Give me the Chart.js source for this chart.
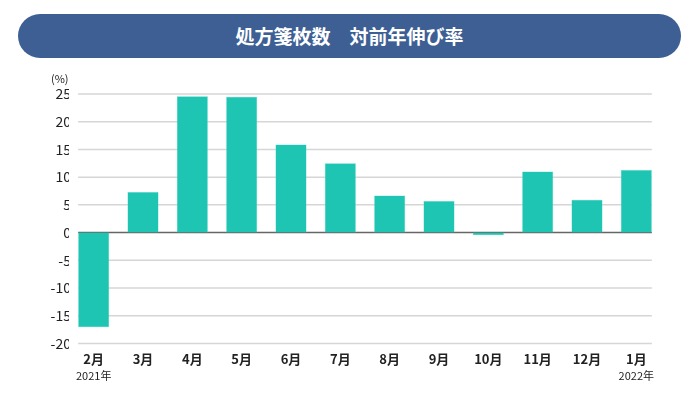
<!DOCTYPE html>
<html><head><meta charset="utf-8">
<script src="https://cdn.jsdelivr.net/npm/chart.js@4"></script>
<style>
html,body{margin:0;padding:0;background:#fff;}
#wrap{position:relative;width:700px;height:400px;}
#banner{position:absolute;left:18px;top:14px;width:663px;height:44px;border-radius:22px;background:#3d5f94;color:#fff;
 font-family:"Noto Sans CJK JP";font-weight:bold;font-size:19px;line-height:44px;text-align:center;}
#unit{position:absolute;left:51px;top:70px;font-family:"Noto Sans CJK JP";font-size:11px;color:#222;}
canvas{position:absolute;left:0;top:0;}
</style></head>
<body>
<div id="wrap">
<canvas id="c" width="700" height="400"></canvas>
<div id="banner">処方箋枚数　対前年伸び率</div>
<div id="unit">(%)</div>
</div>
<script>
const months = ['2月','3月','4月','5月','6月','7月','8月','9月','10月','11月','12月','1月'];
const years = ['2021年','','','','','','','','','','','2022年'];
const growth = [-17.1, 7.3, 24.6, 24.5, 15.9, 12.5, 6.7, 5.7, -0.5, 11.0, 5.9, 11.3];
const yTicks = [25,20,15,10,5,0,-5,-10,-15,-20];

const gridPlugin = {
  id:'insetGrid',
  beforeDatasetsDraw(chart){
    const ctx = chart.ctx, y = chart.scales.y, x = chart.scales.x;
    const meta = chart.getDatasetMeta(0);
    const half = meta.data[0].width/2;
    const left = x.getPixelForValue(0) - half;
    const right = x.getPixelForValue(months.length-1) + half;
    ctx.save();
    yTicks.forEach(v=>{
      const py = y.getPixelForValue(v);
      ctx.beginPath();
      ctx.strokeStyle = v===0 ? '#666' : '#d6d6d6';
      ctx.lineWidth = 1.5;
      ctx.moveTo(left, py); ctx.lineTo(right, py); ctx.stroke();
    });
    ctx.restore();
  },
  afterDraw(chart){
    const ctx = chart.ctx, x = chart.scales.x;
    ctx.save();
    ctx.fillStyle = '#222';
    ctx.font = '11px "Noto Sans CJK JP"';
    ctx.textAlign = 'center';
    ctx.textBaseline = 'middle';
    years.forEach((t,i)=>{ if(t) ctx.fillText(t, x.getPixelForValue(i), x.top + 32); });
    ctx.restore();
  }
};

new Chart(document.getElementById('c'), {
  type:'bar',
  data:{labels:months, datasets:[{data:growth, backgroundColor:'#1dc5b2', borderColor:'#5fd8ca', borderWidth:0.5,
    categoryPercentage:1, barPercentage:0.63}]},
  options:{
    responsive:false, animation:false,
    layout:{padding:{top:94,right:39,left:0,bottom:25}},
    plugins:{legend:{display:false},tooltip:{enabled:false}},
    scales:{
      x:{offset:true, grid:{display:false,drawTicks:false}, border:{display:false},
        ticks:{color:'#222',padding:8,font:{family:'Noto Sans CJK JP',size:13,weight:'bold'}}},
      y:{min:-20,max:25, grid:{display:false,drawTicks:false}, border:{display:false},
        afterFit(s){s.width=69;},
        afterBuildTicks(s){s.ticks = yTicks.map(v=>({value:v}));},
        ticks:{color:'#222',padding:-2,font:{family:'Noto Sans CJK JP',size:14}}}
    }
  },
  plugins:[gridPlugin]
});
</script>
</body></html>
